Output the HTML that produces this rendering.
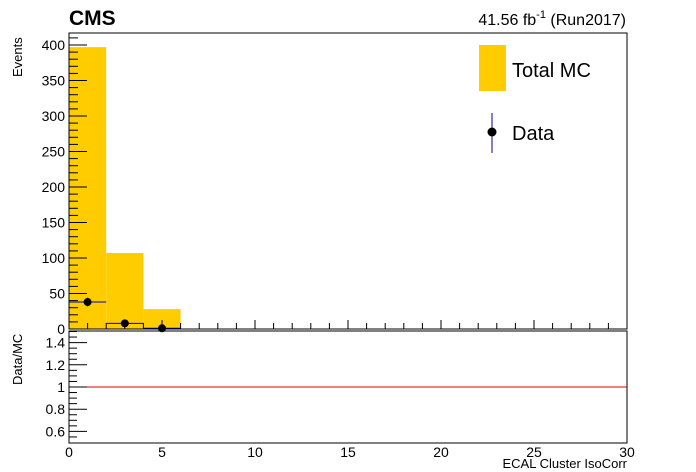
<!DOCTYPE html>
<html><head><meta charset="utf-8"><style>
body{margin:0;background:#fff}
svg{display:block;font-family:"Liberation Sans",sans-serif}
</style></head><body>
<svg id="c" width="696" height="472" viewBox="0 0 696 472">
<text x="69" y="25" font-size="21" font-weight="bold">CMS</text>
<text x="626" y="25" font-size="16" text-anchor="end">41.56 fb<tspan dy="-7" font-size="11">-1</tspan><tspan dy="7"> (Run2017)</tspan></text>
<text transform="translate(22,77) rotate(-90)" font-size="13">Events</text>
<text transform="translate(22,385) rotate(-90)" font-size="13">Data/MC</text>
<text x="627" y="468" font-size="13" text-anchor="end">ECAL Cluster IsoCorr</text>
<g id="plot"></g>
<rect x="479" y="45" width="27" height="46" fill="#ffcc00"/>
<text x="512" y="77" font-size="20">Total MC</text>
<line x1="492" y1="113" x2="492" y2="153" stroke="#0000aa"/>
<circle cx="492" cy="132" r="4.5" fill="#000"/>
<text x="512" y="140" font-size="20">Data</text>
</svg>
<script>
const binEdges=[0,2,4,6];
const mcValues=[397,107,28];
const dataValues=[38,8,1];
const ratioTicks=[0.6,0.8,1,1.2,1.4];
const yTicks=[0,50,100,150,200,250,300,350,400];
const xTicks=[0,5,10,15,20,25,30];
const NS='http://www.w3.org/2000/svg';
const g=document.getElementById('plot');
const L=69,R=627,T=33,B=329,RT=331,RB=443;
const X=v=>L+v*(R-L)/30;
const Y=v=>329-v*0.71;
const RY=v=>387-(v-1)*111;
function mk(t,a){const e=document.createElementNS(NS,t);for(const k in a)e.setAttribute(k,a[k]);g.appendChild(e);return e;}
mcValues.forEach((v,i)=>{const e=mk('rect',{x:X(binEdges[i]),y:Y(v),width:X(binEdges[i+1])-X(binEdges[i]),height:B-Y(v),fill:'#ffcc00'});

});
// y ticks main
for(let v=0;v<=415;v+=10){mk('line',{x1:L,x2:L+(v%50?9:18),y1:Y(v),y2:Y(v),stroke:'#000'});}
yTicks.forEach(v=>{const t=mk('text',{x:L-4,y:Y(v)+5,'font-size':14,'text-anchor':'end'});t.textContent=v;

});
// x ticks upper
for(let v=0;v<=30;v++){const len=v%5?6:9;mk('line',{x1:X(v),x2:X(v),y1:B,y2:B-len,stroke:'#000'});}
dataValues.forEach((v,i)=>{const cx=(binEdges[i]+binEdges[i+1])/2;
const l=mk('line',{x1:X(binEdges[i]),x2:X(binEdges[i+1]),y1:Y(v),y2:Y(v),stroke:'#0000aa'});


const e=mk('line',{x1:X(cx),x2:X(cx),y1:Y(v+Math.sqrt(v)),y2:Math.min(B,Y(v-Math.sqrt(v))),stroke:'#0000aa'});


const c=mk('circle',{cx:X(cx),cy:Y(v),r:4,fill:'#000'});

});
// frames
[[T,B],[RT,RB]].forEach(([t,b],i)=>{const f=mk('rect',{x:L,y:t,width:R-L,height:b-t,fill:'none',stroke:'#000'});

});
const rl=mk('line',{x1:L,x2:R,y1:RY(1),y2:RY(1),stroke:'#d00'});


// ratio ticks
for(let k=11;k<=30;k++){const v=k*0.05;const m=k%4==0;mk('line',{x1:L,x2:L+(m?18:8),y1:RY(v),y2:RY(v),stroke:'#000'});}
ratioTicks.forEach(v=>{const t=mk('text',{x:L-4,y:RY(v)+5,'font-size':14,'text-anchor':'end'});t.textContent=v;

});
xTicks.forEach(v=>{const t=mk('text',{x:X(v),y:457,'font-size':14,'text-anchor':'middle'});t.textContent=v;

});
</script>
</body></html>
